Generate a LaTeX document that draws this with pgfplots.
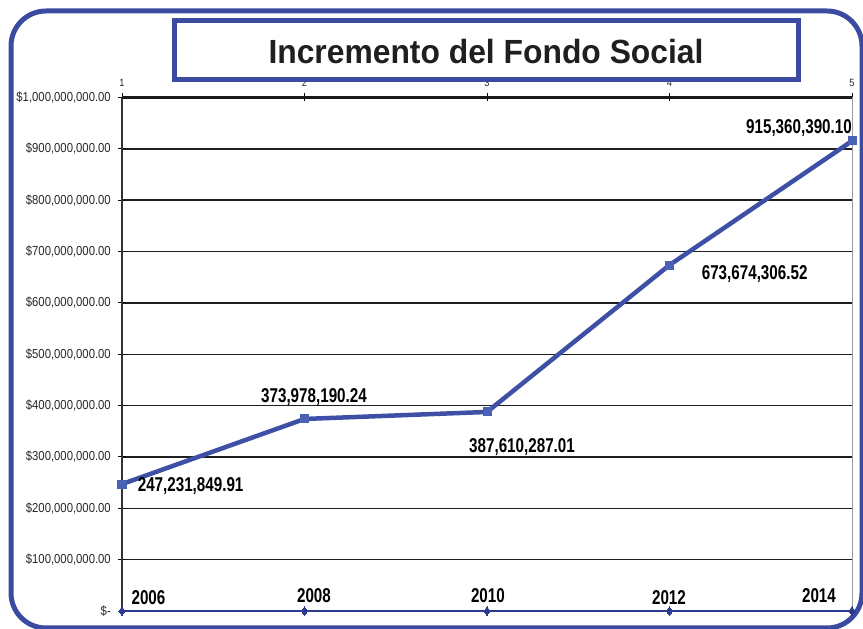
\documentclass[border=0pt]{standalone}
\usepackage{pgfplots}
\pgfplotsset{compat=1.18}
\usepackage{fontspec}
\setmainfont{Liberation Sans}
\newfontfamily\narrowfont[FakeStretch=0.76]{Liberation Sans}
\newfontfamily\tickfont[FakeStretch=0.87]{Liberation Sans}
\newfontfamily\titlefont[FakeStretch=0.95]{Liberation Sans}
\definecolor{frameblue}{HTML}{3B4CA0}
\definecolor{lineblue}{HTML}{3E50A6}
\definecolor{markblue}{HTML}{4A62B4}
\definecolor{navyline}{HTML}{2E3A8E}
\begin{document}
\begin{tikzpicture}
\useasboundingbox (0,0) rectangle (863bp,629bp);
\clip (0,0) rectangle (863bp,629bp);
\draw[frameblue, line width=5bp, rounded corners=35bp] (11bp,1bp) rectangle (862bp,618bp);
\begin{axis}[
  at={(122bp,18bp)}, anchor=south west,
  scale only axis, width=730bp, height=513.5bp,
  xmin=0, xmax=4, ymin=0, ymax=1000000000,
  clip=false,
  axis line style={draw=none},
  xtick={0,1,2,3,4}, xticklabels={1,2,3,4,5},
  xtick pos=right, xticklabel pos=right,
  ytick pos=left, yticklabel pos=left,
  tick align=center, major tick length=8bp,
  tick style={black, line width=0.9bp},
  scaled y ticks=false,
  ymajorgrids,
  grid style={black!88, line width=1.4bp},
  ytick={100000000,200000000,300000000,400000000,500000000,600000000,700000000,800000000,900000000,1000000000},
  yticklabels={{\$100,000,000.00},{\$200,000,000.00},{\$300,000,000.00},{\$400,000,000.00},{\$500,000,000.00},{\$600,000,000.00},{\$700,000,000.00},{\$800,000,000.00},{\$900,000,000.00},{\$1,000,000,000.00}},
  extra y ticks={0},
  extra y tick labels={{\$-\hspace{6.5bp}}},
  extra y tick style={grid=none},
  yticklabel style={font=\tickfont\fontsize{13bp}{15bp}\selectfont, anchor=east, inner sep=0pt, xshift=-7bp, text=black!85},
  xticklabel style={font=\tickfont\fontsize{10.5bp}{11bp}\selectfont, anchor=south, inner sep=0pt, yshift=7bp, text=black!85},
]
\draw[black!80, line width=1.5bp] (rel axis cs:0,0) -- (rel axis cs:0,1);
\draw[black!40, line width=1bp] (rel axis cs:1,0) -- (rel axis cs:1,1);
\draw[black!90, line width=2.4bp] (rel axis cs:0,1) -- (rel axis cs:1,1);
\addplot[color=navyline, line width=1.2bp, mark=diamond*, mark size=4.2bp, mark options={solid, fill=navyline, draw=navyline, line width=0pt}]
  coordinates {(0,0) (1,0) (2,0) (3,0) (4,0)};
\addplot[color=lineblue, line width=4.5bp, line join=round, mark=square*, mark size=4bp, mark options={solid, fill=markblue, draw=markblue, line width=0pt}]
  coordinates {(0,247231849.91) (1,373978190.24) (2,387610287.01) (3,673674306.52) (4,915360390.10)};
\begin{scope}[every node/.style={font=\narrowfont\bfseries\fontsize{20bp}{24bp}\selectfont, inner sep=0pt}]
\node[anchor=west] at (axis cs:0.0855,243400000) {247,231,849.91};
\node[anchor=center] at (axis cs:1.052,416700000) {373,978,190.24};
\node[anchor=center] at (axis cs:2.192,319400000) {387,610,287.01};
\node[anchor=west] at (axis cs:3.176,656300000) {673,674,306.52};
\node[anchor=east] at (axis cs:4,940600000) {915,360,390.10};
\node at (axis cs:0.145,25300000) {2006};
\node at (axis cs:1.052,29200000) {2008};
\node at (axis cs:2.005,29200000) {2010};
\node at (axis cs:2.997,25300000) {2012};
\node at (axis cs:3.819,29200000) {2014};
\end{scope}
\end{axis}
\draw[frameblue, line width=5bp, fill=white] (174.5bp,549.5bp) rectangle (798.5bp,608.5bp);
\node[font=\titlefont\bfseries\fontsize{33.5bp}{38bp}\selectfont, text=black!88, inner sep=0pt] at (486bp,577bp) {Incremento del Fondo Social};
\end{tikzpicture}
\end{document}
